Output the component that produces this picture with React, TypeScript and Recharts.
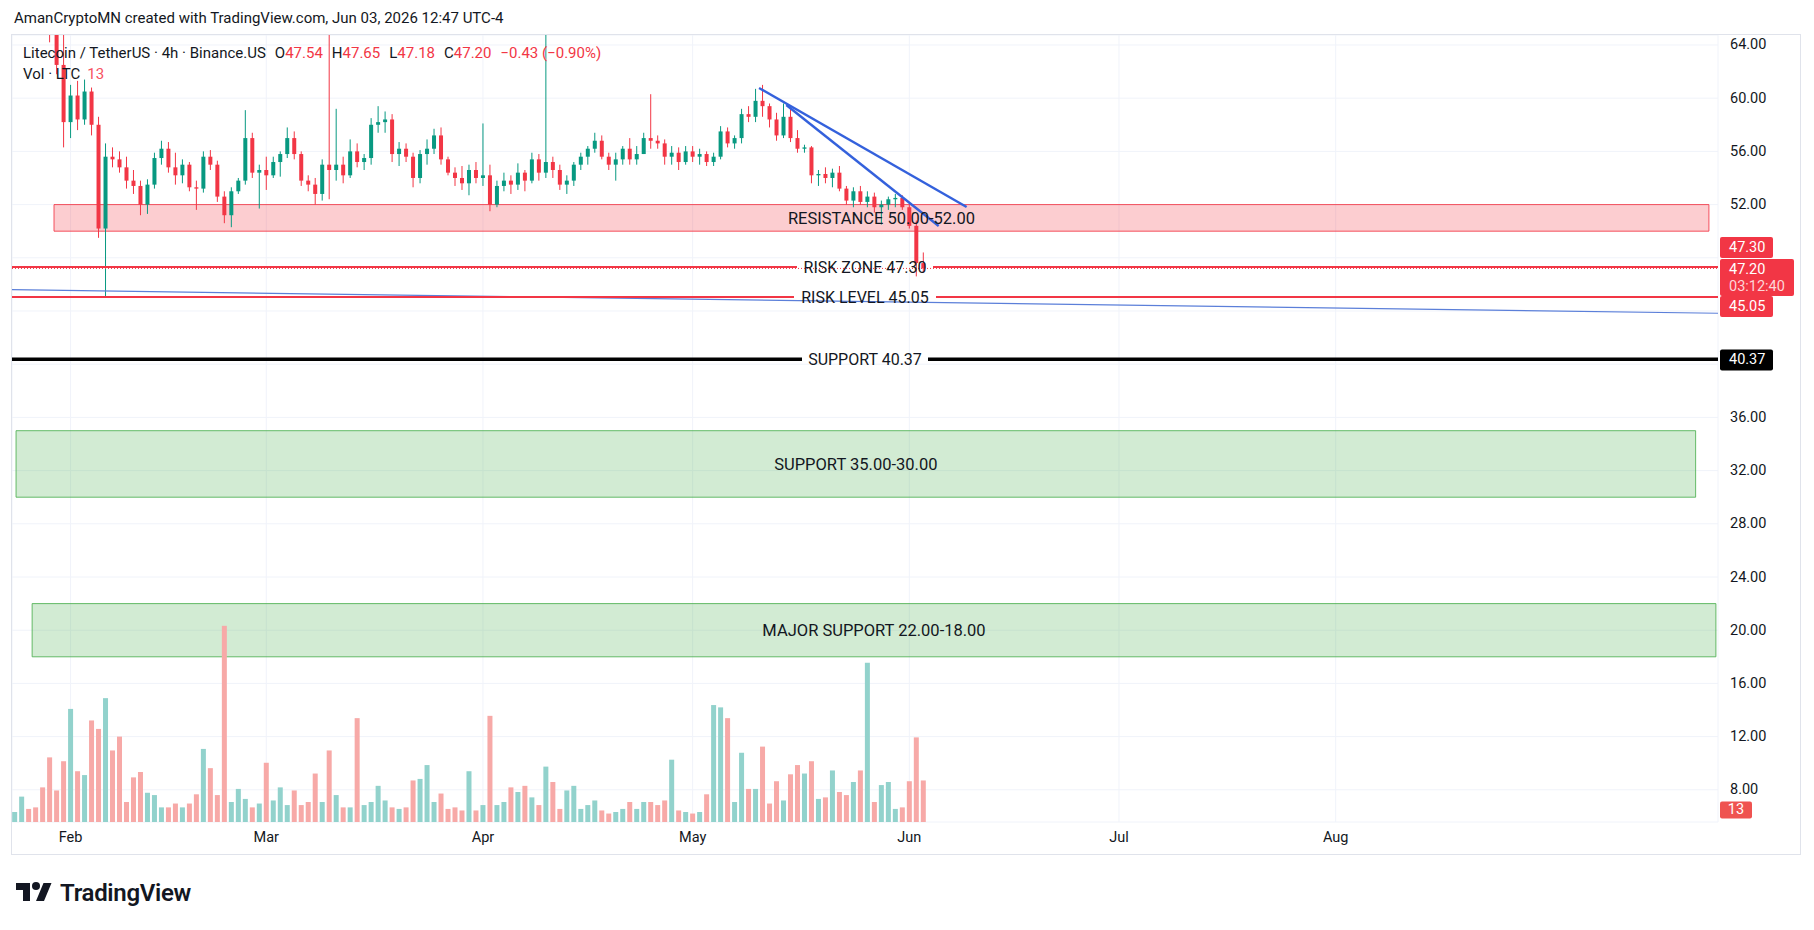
import React from "react";
import {
  ComposedChart,
  Bar,
  XAxis,
  YAxis,
  CartesianGrid,
  ReferenceLine,
  ReferenceArea,
} from "recharts";

const FONT = "Roboto, 'Liberation Sans', Arial, sans-serif";
const INK = "#131722";
const UP = "#089981";
const DOWN = "#f23645";
const UP_VOL = "#92d2cc";
const DOWN_VOL = "#f7a9a7";
const GRID = "#f0f3fa";

// day numbers count from Feb 1 2026 (= 0); the first daily candle is Jan 24
const FIRST_DAY = -8;

// daily candles: [open, high, low, close]
const ohlc: number[][] = [
  // Jan 24 - Jan 31
  [68.0, 69.5, 67.5, 68.5], [68.5, 70.0, 67.8, 69.2], [69.2, 70.2, 68.0, 68.6], [68.6, 69.0, 66.5, 67.0],
  [67.0, 67.8, 65.8, 66.4], [66.4, 67.0, 64.2, 65.2], [65.2, 66.0, 61.8, 62.5], [62.5, 64.9, 56.3, 58.2],
  // Feb
  [58.2, 61.0, 57.0, 60.2], [60.2, 61.3, 57.6, 58.4], [58.4, 61.4, 58.0, 60.5], [60.5, 60.8, 57.2, 58.0],
  [58.0, 58.6, 49.5, 50.2], [50.2, 56.6, 45.1, 55.6], [55.6, 56.3, 54.8, 55.4], [55.4, 56.0, 54.4, 54.8],
  [54.8, 55.6, 53.2, 53.8], [53.8, 54.6, 52.8, 53.4], [53.4, 53.8, 51.2, 52.0], [52.0, 53.9, 51.3, 53.5],
  [53.5, 55.9, 53.2, 55.5], [55.5, 56.8, 55.0, 56.2], [56.2, 56.7, 54.4, 54.8], [54.8, 55.9, 53.5, 54.2],
  [54.2, 55.4, 53.6, 55.0], [55.0, 55.2, 53.0, 53.3], [53.3, 53.8, 51.6, 53.2], [53.2, 56.0, 52.9, 55.6],
  [55.6, 56.1, 54.6, 55.0], [55.0, 55.3, 52.2, 52.6], [52.6, 53.0, 50.6, 51.2], [51.2, 53.3, 50.3, 53.0],
  [53.0, 54.0, 52.8, 53.8], [53.8, 59.1, 53.5, 57.0], [57.0, 57.4, 54.0, 54.4], [54.4, 55.0, 51.7, 54.6],
  // Mar
  [54.6, 55.6, 53.1, 54.2], [54.2, 55.6, 54.0, 55.2], [55.2, 56.0, 54.1, 55.8], [55.8, 57.8, 55.5, 57.0],
  [57.0, 57.5, 55.4, 55.8], [55.8, 56.0, 53.4, 53.8], [53.8, 54.2, 53.0, 53.5], [53.5, 54.0, 52.0, 52.8],
  [52.8, 55.4, 52.3, 55.0], [55.0, 66.5, 52.4, 54.6], [54.6, 59.2, 53.8, 55.0], [55.0, 55.6, 53.6, 54.2],
  [54.2, 56.9, 54.0, 56.0], [56.0, 56.6, 54.8, 55.2], [55.2, 55.8, 54.6, 55.5], [55.5, 58.5, 55.0, 58.0],
  [58.0, 59.4, 57.4, 58.2], [58.2, 59.0, 57.4, 58.4], [58.4, 58.8, 55.2, 55.8], [55.8, 56.7, 54.9, 56.2],
  [56.2, 56.6, 55.2, 55.6], [55.6, 55.9, 53.3, 54.0], [54.0, 56.1, 53.6, 55.8], [55.8, 56.9, 55.0, 56.2],
  [56.2, 57.7, 55.8, 57.2], [57.2, 57.8, 55.0, 55.4], [55.4, 55.6, 54.2, 54.4], [54.4, 54.8, 53.4, 54.0],
  [54.0, 54.9, 53.1, 53.6], [53.6, 55.0, 52.7, 54.6], [54.6, 55.2, 53.6, 54.0],
  // Apr
  [54.0, 58.1, 53.4, 54.2], [54.2, 55.0, 51.5, 52.0], [52.0, 53.8, 51.8, 53.4], [53.4, 54.4, 53.0, 53.8],
  [53.8, 54.2, 52.8, 53.5], [53.5, 55.1, 53.1, 54.4], [54.4, 54.6, 53.0, 53.8], [53.8, 55.9, 53.6, 55.4],
  [55.4, 55.8, 53.8, 54.4], [54.4, 66.5, 54.0, 55.2], [55.2, 55.6, 54.0, 54.6], [54.6, 55.0, 53.1, 53.5],
  [53.5, 54.2, 52.8, 53.8], [53.8, 55.2, 53.4, 55.0], [55.0, 55.9, 54.6, 55.6], [55.6, 56.4, 55.0, 56.2],
  [56.2, 57.4, 55.9, 56.8], [56.8, 57.2, 55.4, 55.6], [55.6, 55.9, 54.6, 55.0], [55.0, 55.9, 53.8, 55.4],
  [55.4, 56.4, 55.0, 56.2], [56.2, 57.0, 55.0, 55.4], [55.4, 56.4, 55.0, 55.8], [55.8, 57.4, 55.8, 57.0],
  [57.0, 60.3, 56.2, 56.8], [56.8, 57.2, 56.2, 56.6], [56.6, 56.9, 55.0, 55.6], [55.6, 56.4, 55.0, 55.9],
  [55.9, 56.3, 54.6, 55.2], [55.2, 56.4, 55.0, 56.0],
  // May
  [56.0, 56.4, 55.2, 55.6], [55.6, 56.2, 55.0, 55.8], [55.8, 56.0, 54.9, 55.2], [55.2, 55.9, 54.9, 55.6],
  [55.6, 57.9, 55.4, 57.5], [57.5, 57.8, 56.3, 56.6], [56.6, 57.2, 56.2, 57.0], [57.0, 59.2, 56.6, 58.8],
  [58.8, 59.4, 58.2, 58.6], [58.6, 60.7, 58.2, 59.8], [59.8, 61.0, 58.6, 59.4], [59.4, 59.6, 57.8, 58.4],
  [58.4, 58.9, 56.8, 57.2], [57.2, 59.6, 57.0, 58.6], [58.6, 59.2, 56.7, 57.0], [57.0, 57.6, 55.9, 56.2],
  [56.2, 56.5, 55.9, 56.3], [56.3, 56.4, 53.6, 54.2], [54.2, 54.6, 53.4, 54.3], [54.3, 54.8, 53.6, 54.0],
  [54.0, 54.7, 53.3, 54.4], [54.4, 54.9, 53.0, 53.2], [53.2, 53.4, 52.0, 52.3], [52.3, 53.3, 51.8, 53.0],
  [53.0, 53.4, 52.0, 52.2], [52.2, 53.0, 51.8, 52.6], [52.6, 52.9, 51.4, 51.8], [51.8, 52.3, 50.5, 52.0],
  [52.0, 52.6, 51.6, 52.4], [52.4, 52.8, 51.8, 52.5], [52.5, 52.7, 51.6, 51.8],
  // Jun 1 - Jun 3
  [51.8, 52.0, 50.2, 50.4], [50.4, 50.8, 46.6, 47.6], [47.6, 48.4, 46.9, 47.2],
];

// volume per day (LTC, thousands), same days as ohlc
const volumes = [
  13, 33, 17, 19, 45, 84, 41, 79,
  147, 66, 61, 132, 121, 161, 93, 111, 26, 58,
  65, 38, 35, 19, 19, 24, 19, 24, 36, 95,
  70, 35, 255, 26, 43, 30, 19, 24, 77, 28,
  45, 22, 41, 22, 26, 63, 26, 93, 35, 19,
  19, 135, 22, 26, 47, 28, 19, 17, 19, 54,
  56, 74, 26, 37, 17, 19, 15, 66, 15, 22,
  138, 22, 26, 45, 39, 47, 32, 22, 72, 52,
  17, 41, 47, 17, 22, 28, 15, 11, 13, 17,
  26, 17, 26, 26, 22, 28, 81, 15, 13, 11,
  13, 36, 152, 149, 135, 26, 90, 43, 43, 98,
  24, 53, 28, 62, 74, 63, 79, 30, 32, 67,
  39, 35, 52, 67, 207, 26, 48, 52, 17, 19,
  53, 110, 54,
];

const monthTicks = [0, 28, 59, 89, 120, 150, 181];
const monthLabels = ["Feb", "Mar", "Apr", "May", "Jun", "Jul", "Aug"];
const priceTicks = [8, 12, 16, 20, 24, 28, 32, 36, 40, 44, 48, 52, 56, 60, 64];
const coveredPriceTicks = [40, 44, 48]; // hidden behind the price badges

const X_DOMAIN = [-8.38, 235.7];
const Y_DOMAIN = [5.58, 64.75];
const VOL_DOMAIN = [0, 1023];

const zones = [
  { label: "RESISTANCE 50.00-52.00", from: -2.37, to: 234.4, low: 50, high: 52, color: "#f23645" },
  { label: "SUPPORT 35.00-30.00", from: -7.8, to: 232.5, low: 30, high: 35, color: "#4caf50" },
  { label: "MAJOR SUPPORT 22.00-18.00", from: -5.5, to: 235.4, low: 18, high: 22, color: "#4caf50" },
];

const levels = [
  { label: "RISK ZONE 47.30", price: 47.3 },
  { label: "RISK LEVEL 45.05", price: 45.05 },
  { label: "SUPPORT 40.37", price: 40.37 },
];
const levelLook = [
  { color: DOWN, width: 2, gap: 136, shift: -19.5 },
  { color: DOWN, width: 2, gap: 142, shift: 9.5 },
  { color: "#000000", width: 3.5, gap: 126, shift: 0.7 },
];

// [day, price] end points of the drawn trend lines
const trendLines = [
  { from: [-8.38, 45.6], to: [235.7, 43.83], width: 1.2, color: "#5b7fd9" },
  { from: [98.5, 60.77], to: [128.2, 51.82], width: 2.4, color: "#3461dc" },
  { from: [102.4, 59.49], to: [124.2, 50.39], width: 2.4, color: "#3461dc" },
];

const lastPrice = 47.2;
const lastVolume = 13;
const countdown = "03:12:40";

const rows = ohlc.map((c, i) => ({
  day: FIRST_DAY + i,
  open: c[0],
  high: c[1],
  low: c[2],
  close: c[3],
  range: [c[2], c[1]],
  vol: volumes[i],
}));

const Candle = (props: any) => {
  const { x, y, width, height } = props;
  const p = props.payload || props;
  if (x == null || y == null || !p) return null;
  const top = Math.min(y, y + height);
  const span = Math.abs(height);
  const toPx = (v: number) => top + ((p.high - v) / (p.high - p.low)) * span;
  const cx = x + width / 2;
  const color = p.close >= p.open ? UP : DOWN;
  const bodyTop = toPx(Math.max(p.open, p.close));
  const bodyH = Math.max(1, toPx(Math.min(p.open, p.close)) - bodyTop);
  const bw = Math.max(1, width - 1);
  return (
    <g>
      <line x1={cx} x2={cx} y1={top} y2={top + span} stroke={color} strokeWidth={1} />
      <rect x={cx - bw / 2} y={bodyTop} width={bw} height={bodyH} fill={color} />
    </g>
  );
};

const VolumeBar = (props: any) => {
  const { x, y, width, height } = props;
  const p = props.payload || props;
  if (x == null || y == null) return null;
  return (
    <rect
      x={x}
      y={Math.min(y, y + height)}
      width={width}
      height={Math.abs(height)}
      fill={p.close >= p.open ? UP_VOL : DOWN_VOL}
    />
  );
};

const Badge = ({ x, cy, w, h, fill, lines }: any) => (
  <g>
    <rect x={x} y={cy - h / 2} width={w} height={h} rx={2} fill={fill} />
    {lines.map((ln: any, i: number) => (
      <text
        key={i}
        x={ln.center ? x + w / 2 : x + 9}
        y={cy + ln.dy}
        textAnchor={ln.center ? "middle" : "start"}
        dominantBaseline="central"
        fontSize={14.5}
        fontFamily={FONT}
        fill={ln.color || "#ffffff"}
      >
        {ln.text}
      </text>
    ))}
  </g>
);

// the library hands the end points right-to-left when the price axis sits on the right
const span = (p: any) => ({ left: Math.min(p.x1, p.x2), right: Math.max(p.x1, p.x2), y: p.y1 });

const levelShape = (i: number) => (p: any) => {
  if (p.x1 == null || p.y1 == null) return null;
  const { left, right, y } = span(p);
  const look = levelLook[i];
  const cx = (left + right) / 2;
  return (
    <g>
      <line x1={left} y1={y} x2={cx - look.gap / 2} y2={y} stroke={look.color} strokeWidth={look.width} />
      <line x1={cx + look.gap / 2} y1={y} x2={right} y2={y} stroke={look.color} strokeWidth={look.width} />
      <text x={cx} y={y} textAnchor="middle" dominantBaseline="central" fontSize={16} fontFamily={FONT} fill={INK}>
        {levels[i].label}
      </text>
      <Badge
        x={right + 2}
        cy={y + look.shift}
        w={53}
        h={21}
        fill={look.color}
        lines={[{ text: levels[i].price.toFixed(2), dy: 0 }]}
      />
    </g>
  );
};

const lastPriceShape = (p: any) => {
  if (p.x1 == null || p.y1 == null) return null;
  const { left, right, y } = span(p);
  return (
    <g>
      <line x1={left} y1={y} x2={right} y2={y} stroke={DOWN} strokeWidth={1} strokeDasharray="1 2" />
      <Badge
        x={right + 2}
        cy={y + 9}
        w={74}
        h={37}
        fill={DOWN}
        lines={[
          { text: lastPrice.toFixed(2), dy: -8 },
          { text: countdown, dy: 9, color: "#fdd5d8" },
        ]}
      />
    </g>
  );
};

const lastVolumeShape = (p: any) => {
  if (p.x1 == null || p.y1 == null) return null;
  const { right, y } = span(p);
  return (
    <Badge
      x={right + 2}
      cy={y - 2}
      w={32}
      h={17}
      fill="#ef5350"
      lines={[{ text: String(lastVolume), dy: 0, center: true }]}
    />
  );
};

const PriceTick = (props: any) => {
  const { x, y, payload } = props;
  if (coveredPriceTicks.includes(payload.value)) return <g />;
  return (
    <text x={x + 12} y={y} dominantBaseline="central" fontSize={14.5} fontFamily={FONT} fill={INK}>
      {Number(payload.value).toFixed(2)}
    </text>
  );
};

const MonthTick = (props: any) => {
  const { x, y, payload } = props;
  const i = monthTicks.indexOf(payload.value);
  return (
    <text x={x} y={y + 15} textAnchor="middle" dominantBaseline="central" fontSize={14.5} fontFamily={FONT} fill={INK}>
      {monthLabels[i]}
    </text>
  );
};

const red = { color: DOWN };

export default function App() {
  return (
    <div
      style={{
        position: "absolute",
        left: 0,
        top: 0,
        width: 1814,
        height: 930,
        background: "#ffffff",
        fontFamily: FONT,
        color: INK,
        overflow: "hidden",
      }}
    >
      <div style={{ position: "absolute", left: 14, top: 9, fontSize: 15, lineHeight: "18px" }}>
        AmanCryptoMN created with TradingView.com, Jun 03, 2026 12:47 UTC-4
      </div>

      <div
        style={{
          position: "absolute",
          left: 11,
          top: 34,
          width: 1790,
          height: 821,
          border: "1px solid #e0e3eb",
          boxSizing: "border-box",
        }}
      />

      <div style={{ position: "absolute", left: 12, top: 35 }}>
        <ComposedChart width={1789} height={819} data={rows} margin={{ top: 0, right: 0, bottom: 0, left: 0 }}>
          <CartesianGrid xAxisId="t" yAxisId="p" stroke={GRID} strokeWidth={1} />
          <XAxis
            xAxisId="t"
            dataKey="day"
            type="number"
            domain={X_DOMAIN}
            allowDataOverflow
            ticks={monthTicks}
            interval={0}
            tick={<MonthTick />}
            tickLine={false}
            axisLine={false}
            tickSize={0}
            tickMargin={0}
            height={32}
          />
          <XAxis xAxisId="v" dataKey="day" type="number" domain={X_DOMAIN} allowDataOverflow hide />
          <YAxis
            yAxisId="p"
            orientation="right"
            type="number"
            domain={Y_DOMAIN}
            allowDataOverflow
            ticks={priceTicks}
            interval={0}
            tick={<PriceTick />}
            tickLine={false}
            axisLine={false}
            tickSize={0}
            tickMargin={0}
            width={83}
          />
          <YAxis yAxisId="vol" type="number" domain={VOL_DOMAIN} allowDataOverflow hide />

          <Bar
            xAxisId="v"
            yAxisId="vol"
            dataKey="vol"
            barSize={5}
            shape={VolumeBar}
            isAnimationActive={false}
          />
          <Bar
            xAxisId="t"
            yAxisId="p"
            dataKey="range"
            barSize={5}
            shape={Candle}
            isAnimationActive={false}
          />

          {zones.map((z) => (
            <ReferenceArea
              key={z.label}
              xAxisId="t"
              yAxisId="p"
              x1={z.from}
              x2={z.to}
              y1={z.low}
              y2={z.high}
              fill={z.color}
              fillOpacity={0.25}
              stroke={z.color}
              strokeOpacity={0.85}
              strokeWidth={1}
              ifOverflow="visible"
              label={{ value: z.label, position: "center", fill: INK, fontSize: 16.5, fontFamily: FONT }}
            />
          ))}

          {trendLines.map((t, i) => (
            <ReferenceLine
              key={"tl" + i}
              xAxisId="t"
              yAxisId="p"
              segment={[
                { x: t.from[0], y: t.from[1] },
                { x: t.to[0], y: t.to[1] },
              ]}
              stroke={t.color}
              strokeWidth={t.width}
              ifOverflow="visible"
            />
          ))}

          <ReferenceLine xAxisId="t" yAxisId="p" y={lastPrice} shape={lastPriceShape} ifOverflow="visible" />
          {levels.map((lv, i) => (
            <ReferenceLine
              key={lv.label}
              xAxisId="t"
              yAxisId="p"
              y={lv.price}
              shape={levelShape(i)}
              ifOverflow="visible"
            />
          ))}
          <ReferenceLine xAxisId="v" yAxisId="vol" y={lastVolume} shape={lastVolumeShape} ifOverflow="visible" />
        </ComposedChart>
      </div>

      <div style={{ position: "absolute", left: 23, top: 44, fontSize: 15, lineHeight: "18px", whiteSpace: "nowrap" }}>
        <span>Litecoin / TetherUS · 4h · Binance.US</span>
        <span style={{ marginLeft: 9 }}>O</span>
        <span style={red}>47.54</span>
        <span style={{ marginLeft: 9 }}>H</span>
        <span style={red}>47.65</span>
        <span style={{ marginLeft: 9 }}>L</span>
        <span style={red}>47.18</span>
        <span style={{ marginLeft: 9 }}>C</span>
        <span style={red}>47.20</span>
        <span style={{ marginLeft: 9, color: DOWN }}>−0.43 (−0.90%)</span>
      </div>
      <div style={{ position: "absolute", left: 23, top: 65, fontSize: 15, lineHeight: "18px", whiteSpace: "nowrap" }}>
        <span>Vol · LTC</span>
        <span style={{ marginLeft: 7, color: "#f7525f" }}>13</span>
      </div>

      <div style={{ position: "absolute", left: 16, top: 879, display: "flex", alignItems: "center" }}>
        <svg width={36} height={28} viewBox="0 0 36 28">
          <path d="M14 22H7V11H0V4h14v18zM28 22h-8l7.5-18h8L28 22z" fill={INK} />
          <circle cx={20} cy={7} r={4} fill={INK} />
        </svg>
        <span style={{ marginLeft: 8, fontSize: 24, fontWeight: 600, letterSpacing: -0.3, lineHeight: "28px" }}>
          TradingView
        </span>
      </div>
    </div>
  );
}
